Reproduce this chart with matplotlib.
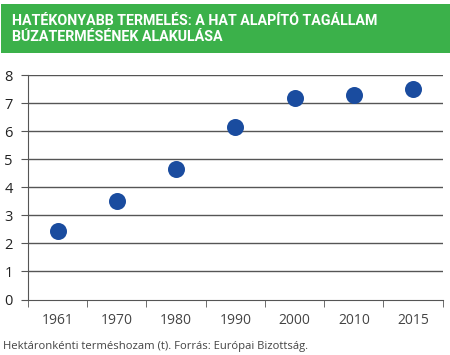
import matplotlib
matplotlib.use("Agg")
import matplotlib.pyplot as plt
import matplotlib.patches as patches
from matplotlib.ticker import FixedLocator

# data
years = ["1961", "1970", "1980", "1990", "2000", "2010", "2015"]
yields = [2.43, 3.51, 4.65, 6.15, 7.2, 7.3, 7.52]
y_ticks = [0, 1, 2, 3, 4, 5, 6, 7, 8]

title = "HATÉKONYABB TERMELÉS: A HAT ALAPÍTÓ TAGÁLLAM\nBÚZATERMÉSÉNEK ALAKULÁSA"
caption = "Hektáronkénti terméshozam (t). Forrás: Európai Bizottság."

green = "#3bb14a"
blue = "#1a4c9f"
grid_col = "#555555"

fig = plt.figure(figsize=(4.5, 3.55), dpi=100)

# green title banner
fig.patches.append(patches.Rectangle((0.003, 1 - 53 / 355), 0.997, 49 / 355,
                                     transform=fig.transFigure, facecolor=green,
                                     edgecolor="none", zorder=0))
fig.text(12 / 450, 1 - 29 / 355, title, color="white", fontsize=10.3,
         fontweight="bold", family="Roboto", va="center", ha="left",
         linespacing=1.2)

ax = fig.add_axes([28 / 450, 1 - 299.5 / 355, 414.7 / 450, 224.2 / 355])
x = list(range(len(years)))
ax.scatter(x, yields, s=150, color=blue, zorder=3, linewidths=0)

ax.set_xlim(-0.5, len(years) - 0.5)
ax.set_ylim(0, 8)
ax.set_yticks(y_ticks)
ax.set_xticks(x)
ax.set_xticklabels(years)
ax.xaxis.set_minor_locator(FixedLocator([i - 0.5 for i in range(len(years) + 1)]))

for v in y_ticks[1:]:
    ax.axhline(v, color=grid_col, lw=1.0, zorder=1)

for s in ["top", "right"]:
    ax.spines[s].set_visible(False)
ax.spines["left"].set_color(grid_col)
ax.spines["bottom"].set_color(grid_col)

ax.tick_params(axis="x", which="major", length=0, pad=10, labelsize=10,
               labelcolor="#444444")
ax.tick_params(axis="x", which="minor", length=5, color=grid_col, direction="out")
ax.tick_params(axis="y", length=5, color=grid_col, pad=6, labelsize=10.5,
               labelcolor="#222222")
for lab in ax.get_xticklabels() + ax.get_yticklabels():
    lab.set_family("Open Sans")

fig.text(3 / 450, 1 - 347 / 355, caption, fontsize=8.1, color="#444444",
         family="Open Sans", va="center", ha="left")

fig.savefig("out.png", dpi=100)
